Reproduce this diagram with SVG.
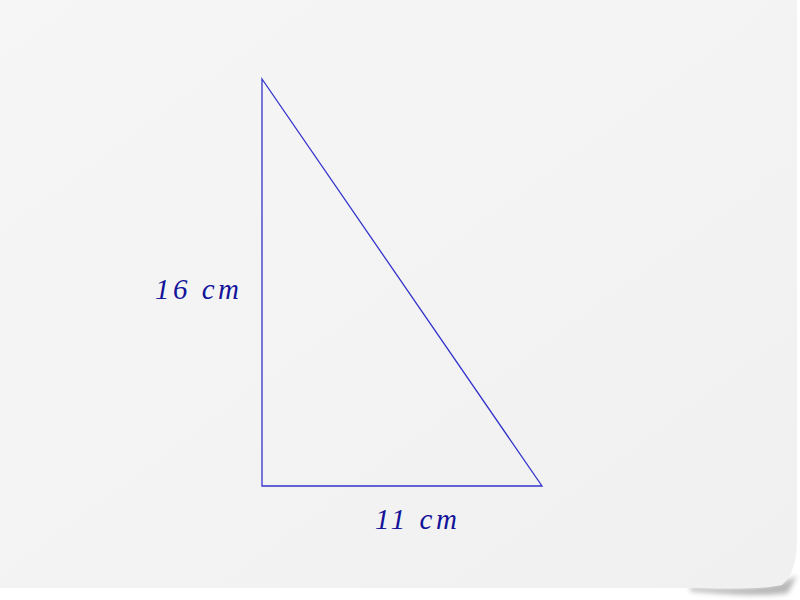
<svg xmlns="http://www.w3.org/2000/svg" width="800" height="600" viewBox="0 0 800 600">
<defs>
<linearGradient id="paper" x1="0" y1="0" x2="1" y2="1">
<stop offset="0" stop-color="#f6f6f6"/>
<stop offset="1" stop-color="#f0f0f0"/>
</linearGradient>
<filter id="blur" x="-10%" y="-50%" width="120%" height="200%"><feGaussianBlur stdDeviation="2.5"/></filter>
</defs>
<style>
.edge{fill:none;stroke:#3333cc;stroke-width:1.3}
.lbl{font-style:italic;font-size:29px;fill:#14149a;letter-spacing:3.5px}
</style>
<rect width="800" height="600" fill="#ffffff"/>
<path d="M690,591 Q760,598 788,593 L797,575 Q775,592 690,587 Z" fill="#b8b8b8" filter="url(#blur)"/>
<path id="page" d="M0,0 L797,0 L797,540 Q797,572 782,585 Q760,590 700,588 L0,588 Z" fill="url(#paper)"/>
<g id="triangle">
<polygon class="edge" points="262,79 262,486 542,486"/>
</g>
<g id="labels">
<text class="lbl" font-family="'Liberation Serif', 'DejaVu Serif', serif" x="155" y="299">16 cm</text>
<text class="lbl" font-family="'Liberation Serif', 'DejaVu Serif', serif" x="375" y="529">11 cm</text>
</g>
</svg>
